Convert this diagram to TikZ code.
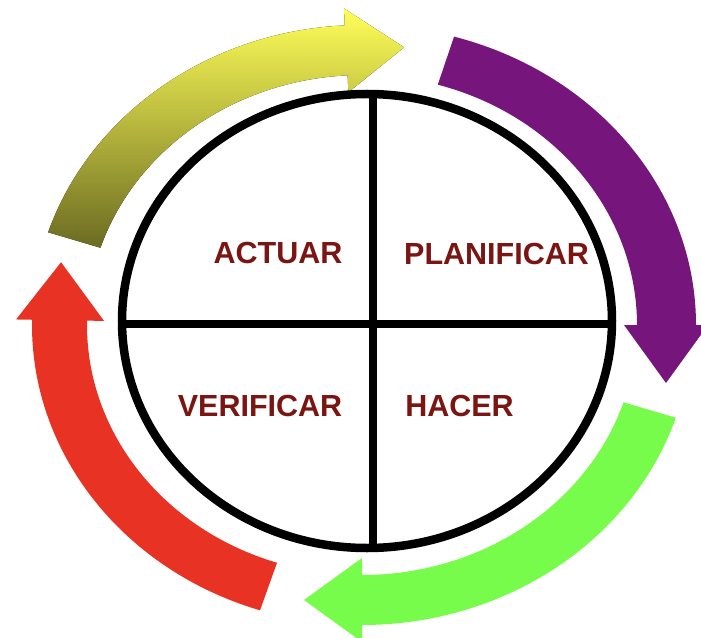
\documentclass[tikz,border=0pt]{standalone}
\usepackage{fontspec}
\setmainfont{Liberation Sans}
\usepackage{xcolor}
\usetikzlibrary{calc}

\definecolor{labelred}{HTML}{7A1512}
\definecolor{cyclepurple}{HTML}{76157B}
\definecolor{cyclegreen}{HTML}{78FC4B}
\definecolor{cyclered}{HTML}{E83324}
\definecolor{cycleyellow}{HTML}{FFFF58}
\definecolor{cyclemid}{HTML}{E2E24A}
\definecolor{cycleolive}{HTML}{6B6B22}

\tikzset{
  stagelabel/.style={text=labelred, font=\fontsize{30.5pt}{33pt}\selectfont\bfseries},
  quadline/.style={draw=black, line width=8.5pt},
}

\begin{document}
\begin{tikzpicture}[x=1pt,y=1pt]
\useasboundingbox (-362,-312) rectangle (339,325);
\fill[top color=cycleyellow, middle color=cyclemid, bottom color=cycleolive] (162:330 and 300) arc[start angle=162, end angle=93, x radius=330, y radius=300] -- (93:344 and 317) -- ($(93:302 and 275)+(3:58)$) -- (93:260 and 233) -- (93:275 and 250) arc[start angle=93, end angle=162, x radius=275, y radius=250] -- cycle;
\fill[cyclepurple] (74:334 and 300) arc[start angle=74, end angle=0, x radius=334, y radius=300] -- (0:346 and 317) -- ($(0:304 and 275)+(-90:58)$) -- (0:262 and 233) -- (0:275 and 250) arc[start angle=0, end angle=74, x radius=275, y radius=250] -- cycle;
\fill[cyclegreen] (-18:330 and 300) arc[start angle=-18, end angle=-90, x radius=330, y radius=300] -- (-90:344 and 317) -- ($(-90:302 and 275)+(180:58)$) -- (-90:260 and 233) -- (-90:275 and 250) arc[start angle=-90, end angle=-18, x radius=275, y radius=250] -- cycle;
\fill[cyclered] (252:330 and 300) arc[start angle=252, end angle=179, x radius=330, y radius=300] -- (179:346 and 317) -- ($(179:302 and 275)+(89:58)$) -- (179:258 and 233) -- (179:275 and 250) arc[start angle=179, end angle=252, x radius=275, y radius=250] -- cycle;
\draw[quadline, fill=white] (5,4) ellipse [x radius=245, y radius=227];
\draw[quadline] (11,231) -- (11,-223);
\draw[quadline] (-240,1) -- (250,1);
\node[stagelabel] (actuar) at (-84,71.5) {ACTUAR};
\node[stagelabel] (planificar) at (134.5,71) {PLANIFICAR};
\node[stagelabel] (verificar) at (-102,-81) {VERIFICAR};
\node[stagelabel] (hacer) at (97.5,-81) {HACER};
\end{tikzpicture}
\end{document}
